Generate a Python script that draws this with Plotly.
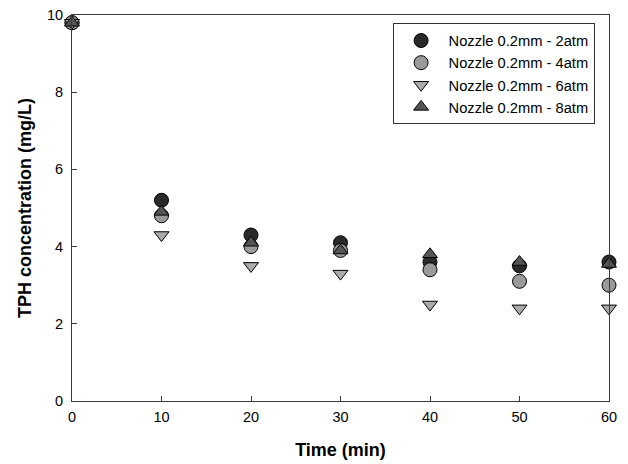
import plotly.graph_objects as go

time_min = [0, 10, 20, 30, 40, 50, 60]
series_names = ["Nozzle 0.2mm - 2atm", "Nozzle 0.2mm - 4atm",
                "Nozzle 0.2mm - 6atm", "Nozzle 0.2mm - 8atm"]
tph_2atm = [9.8, 5.2, 4.3, 4.1, 3.6, 3.5, 3.6]
tph_4atm = [9.8, 4.8, 4.0, 3.9, 3.4, 3.1, 3.0]
tph_6atm = [9.8, 4.3, 3.5, 3.3, 2.5, 2.4, 2.4]
tph_8atm = [9.8, 4.9, 4.1, 3.9, 3.8, 3.6, 3.55]
x_ticks = [0, 10, 20, 30, 40, 50, 60]
y_ticks = [0, 2, 4, 6, 8, 10]

styles = [
    ("circle", "#2a2a2a", 14),
    ("circle", "#9a9a9a", 14),
    ("triangle-down", "#ababab", 13),
    ("triangle-up", "#555555", 13),
]
data = [tph_2atm, tph_4atm, tph_6atm, tph_8atm]

fig = go.Figure()
for name, ys, (sym, col, sz) in zip(series_names, data, styles):
    fig.add_trace(go.Scatter(
        x=time_min, y=ys, mode="markers", name=name, cliponaxis=False,
        marker=dict(symbol=sym, color=col, size=sz,
                    line=dict(color="#000000", width=1)),
    ))

axis_common = dict(
    showgrid=False, zeroline=False, showline=True, mirror=True,
    linecolor="#3a3a3a", linewidth=1, ticks="inside", ticklen=5,
    tickcolor="#3a3a3a", automargin=False, ticklabeloverflow="allow",
    tickfont=dict(family="Liberation Sans, Arial", size=14.5, color="#000"),
)

# the page body has an 8px margin, so the figure is sized/offset to compensate
fig.update_layout(
    width=620, height=456,
    margin=dict(l=64, r=19, t=7, b=63),
    paper_bgcolor="white", plot_bgcolor="white",
    font=dict(family="Liberation Sans, Arial", color="#000"),
    xaxis=dict(range=[0, 60], tickvals=x_ticks, ticklabelstandoff=3,
               title=dict(text="<b>Time (min)</b>", font=dict(size=18), standoff=18),
               **axis_common),
    yaxis=dict(range=[0, 10], tickvals=y_ticks, ticklabelstandoff=5,
               title=dict(text="<b>TPH concentration (mg/L)</b>", font=dict(size=18), standoff=10),
               **axis_common),
    legend=dict(x=0.597, y=0.978, xanchor="left", yanchor="top",
                bgcolor="white", bordercolor="#333333", borderwidth=1,
                font=dict(size=14.7), tracegroupgap=0, itemwidth=45),
    showlegend=True,
)

fig.write_html("out.html")
